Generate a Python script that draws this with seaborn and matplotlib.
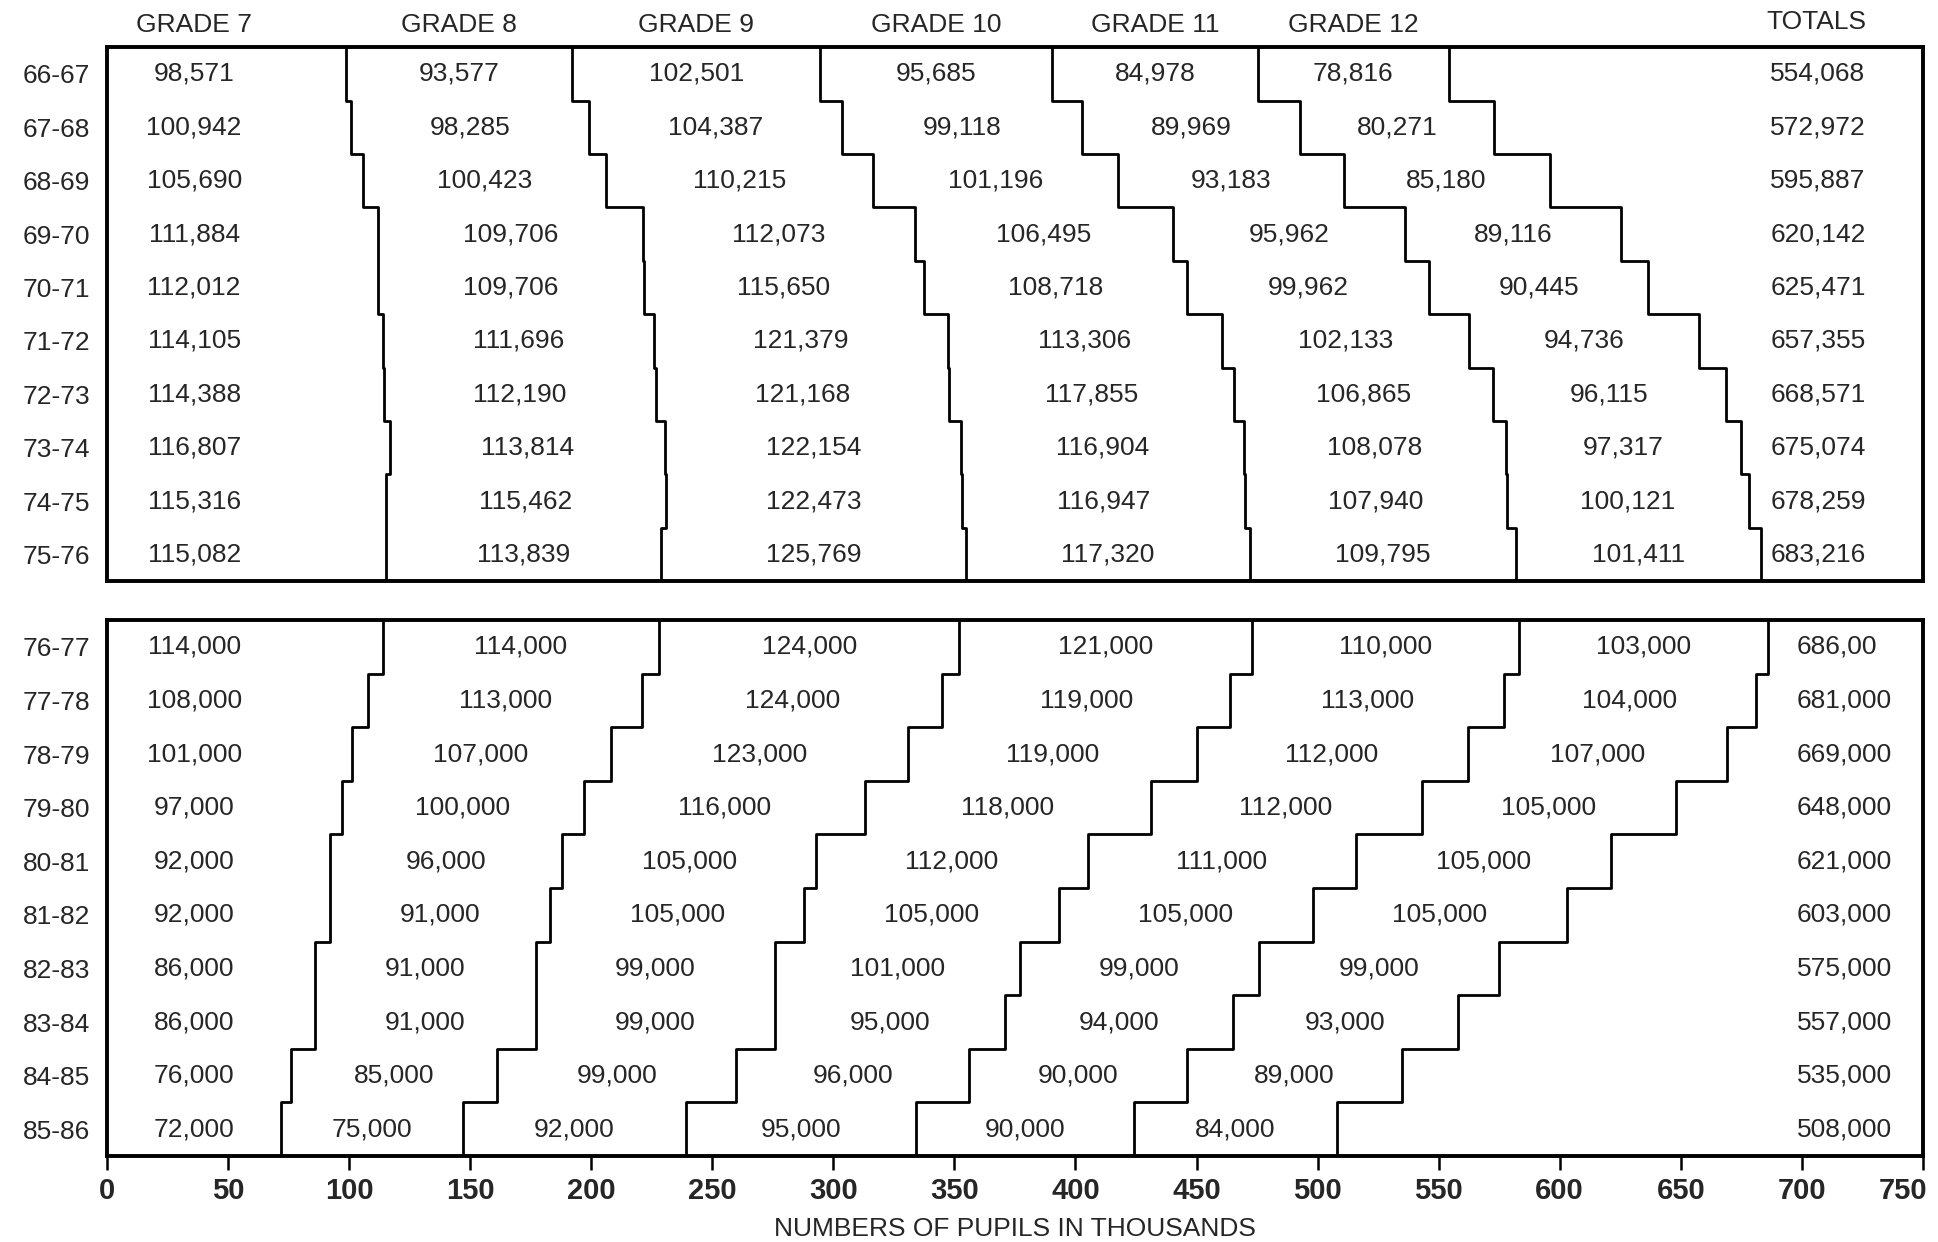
import numpy as np
import pandas as pd
import matplotlib
matplotlib.use("Agg")
import matplotlib.pyplot as plt
import matplotlib.transforms as mtransforms
import seaborn as sns

# enrollment by grade, upper panel (actual) and lower panel (projected)
grades = ["GRADE 7", "GRADE 8", "GRADE 9", "GRADE 10", "GRADE 11", "GRADE 12"]

years_top = ["66-67", "67-68", "68-69", "69-70", "70-71",
             "71-72", "72-73", "73-74", "74-75", "75-76"]
grade7_top = [98571, 100942, 105690, 111884, 112012, 114105, 114388, 116807, 115316, 115082]
grade8_top = [93577, 98285, 100423, 109706, 109706, 111696, 112190, 113814, 115462, 113839]
grade9_top = [102501, 104387, 110215, 112073, 115650, 121379, 121168, 122154, 122473, 125769]
grade10_top = [95685, 99118, 101196, 106495, 108718, 113306, 117855, 116904, 116947, 117320]
grade11_top = [84978, 89969, 93183, 95962, 99962, 102133, 106865, 108078, 107940, 109795]
grade12_top = [78816, 80271, 85180, 89116, 90445, 94736, 96115, 97317, 100121, 101411]
totals_top = ["554,068", "572,972", "595,887", "620,142", "625,471",
              "657,355", "668,571", "675,074", "678,259", "683,216"]

years_bot = ["76-77", "77-78", "78-79", "79-80", "80-81",
             "81-82", "82-83", "83-84", "84-85", "85-86"]
grade7_bot = [114000, 108000, 101000, 97000, 92000, 92000, 86000, 86000, 76000, 72000]
grade8_bot = [114000, 113000, 107000, 100000, 96000, 91000, 91000, 91000, 85000, 75000]
grade9_bot = [124000, 124000, 123000, 116000, 105000, 105000, 99000, 99000, 99000, 92000]
grade10_bot = [121000, 119000, 119000, 118000, 112000, 105000, 101000, 95000, 96000, 95000]
grade11_bot = [110000, 113000, 112000, 112000, 111000, 105000, 99000, 94000, 90000, 90000]
grade12_bot = [103000, 104000, 107000, 105000, 105000, 105000, 99000, 93000, 89000, 84000]
totals_bot = ["686,00", "681,000", "669,000", "648,000", "621,000",
              "603,000", "575,000", "557,000", "535,000", "508,000"]

x_ticks = list(range(0, 751, 50))


def build_steps(columns):
    vals = np.array(columns, dtype=float).T / 1000.0   # rows x grades, thousands
    cum = vals.cumsum(axis=1)
    n = vals.shape[0]
    edges = np.arange(n + 1)
    ys = np.column_stack([edges[:-1], edges[1:]]).ravel()
    frames = []
    for k in range(cum.shape[1]):
        frames.append(pd.DataFrame({"x": np.repeat(cum[:, k], 2), "y": ys, "boundary": k}))
    return vals, cum, pd.concat(frames, ignore_index=True)


def draw_panel(ax, years, columns, totals, totals_x, font_size=19):
    vals, cum, steps = build_steps(columns)
    n = len(years)
    sns.lineplot(data=steps, x="x", y="y", units="boundary", estimator=None,
                 sort=False, color="black", linewidth=2.0, ax=ax, legend=False)
    for i in range(n):
        for k in range(vals.shape[1]):
            # first column is set towards the left edge, the rest centred in their band
            xpos = 36 if k == 0 else cum[i, k] - vals[i, k] / 2
            ax.text(xpos, i + 0.5, f"{int(columns[k][i]):,}",
                    ha="center", va="center", fontsize=font_size)
        ax.text(totals_x, i + 0.5, totals[i], ha="left", va="center", fontsize=font_size)
    ax.set_xlim(0, 750)
    ax.set_ylim(n, 0)
    ax.set_yticks(np.arange(n) + 0.5, labels=years)
    ax.tick_params(axis="y", length=0, pad=12, labelsize=font_size)
    ax.set_xlabel("")
    ax.set_ylabel("")
    for sp in ax.spines.values():
        sp.set_visible(True)
        sp.set_linewidth(2.8)
        sp.set_color("black")
    return vals, cum


sns.set_theme(style="white")
plt.rcParams["font.family"] = ["Liberation Sans", "DejaVu Sans"]

fig = plt.figure(figsize=(19.38, 12.42), dpi=100)
ax_top = fig.add_axes([0.0552, 0.532, 0.937, 0.430])
ax_bot = fig.add_axes([0.0552, 0.0692, 0.937, 0.4316])

cols_top = [grade7_top, grade8_top, grade9_top, grade10_top, grade11_top, grade12_top]
cols_bot = [grade7_bot, grade8_bot, grade9_bot, grade10_bot, grade11_bot, grade12_bot]

vals_top, cum_top = draw_panel(ax_top, years_top, cols_top, totals_top, 687)
draw_panel(ax_bot, years_bot, cols_bot, totals_bot, 698)

# column headers over the first row of the upper panel
for k, g in enumerate(grades):
    hx = 36 if k == 0 else cum_top[0, k] - vals_top[0, k] / 2
    ax_top.annotate(g, xy=(hx, 1.0),
                    xycoords=("data", "axes fraction"), xytext=(0, 16),
                    textcoords="offset points", ha="center", va="center", fontsize=19)
ax_top.annotate("TOTALS", xy=(706, 1.0), xycoords=("data", "axes fraction"),
                xytext=(0, 18), textcoords="offset points",
                ha="center", va="center", fontsize=19)

ax_top.set_xticks([])

ax_bot.set_xticks(x_ticks)
ax_bot.set_xticklabels([str(t) for t in x_ticks], fontweight="bold", fontsize=21)
ax_bot.tick_params(axis="x", direction="out", length=10, width=1.8, pad=5,
                   bottom=True, color="black")
# last label sits against the page edge, nudge it in
last = ax_bot.get_xticklabels()[-1]
last.set_transform(last.get_transform() + mtransforms.ScaledTranslation(-14 / 72, 0, fig.dpi_scale_trans))
ax_bot.set_xlabel("NUMBERS OF PUPILS IN THOUSANDS", fontsize=19, labelpad=9)

fig.savefig("out.png", dpi=100, facecolor="white")
